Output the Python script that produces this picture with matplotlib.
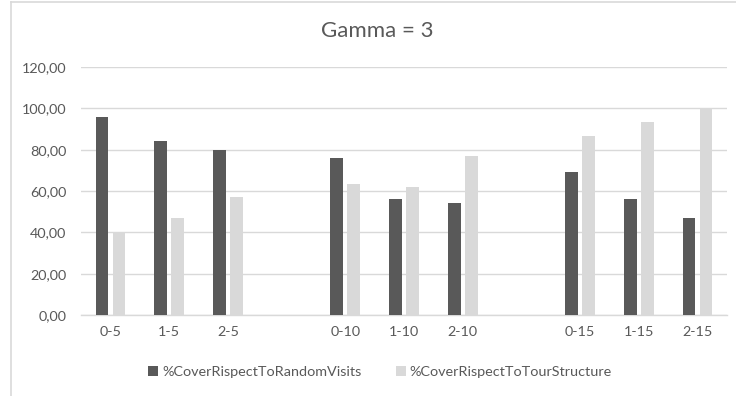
import matplotlib
matplotlib.use("Agg")
import matplotlib.pyplot as plt
from matplotlib.lines import Line2D
from matplotlib.patches import Patch
from matplotlib.ticker import FuncFormatter

plt.rcParams['font.family'] = ['Lato', 'DejaVu Sans']

title = "Gamma = 3"
categories = ["0-5", "1-5", "2-5", "0-10", "1-10", "2-10", "0-15", "1-15", "2-15"]
random_visits = [96.0, 84.0, 80.0, 76.0, 56.0, 54.0, 69.3, 56.0, 46.7]
tour_structure = [40.0, 46.7, 57.1, 63.3, 62.0, 77.0, 86.7, 93.3, 100.0]
series_names = ["%CoverRispectToRandomVisits", "%CoverRispectToTourStructure"]
y_ticks = [0, 20, 40, 60, 80, 100, 120]

dark = "#595959"
light = "#d9d9d9"
text_col = "#595959"
grid_col = "#d9d9d9"

W, H = 736, 396
fig = plt.figure(figsize=(W / 100, H / 100), dpi=100)
ax = fig.add_axes([81 / W, (H - 315) / H, (727 - 81) / W, (315 - 67) / H])

# three groups of three categories, separated by one empty slot
pos = [(i // 3) * 4 + (i % 3) for i in range(len(categories))]
bw = 0.215
off = 0.145
ax.bar([p - off for p in pos], random_visits, width=bw, color=dark, zorder=3)
ax.bar([p + off for p in pos], tour_structure, width=bw, color=light, zorder=3)

ax.set_xlim(-0.5, 10.5)
ax.set_ylim(0, 120)
ax.set_yticks(y_ticks)
ax.yaxis.set_major_formatter(FuncFormatter(lambda v, _: f"{v:.2f}".replace(".", ",")))
ax.set_xticks(pos)
ax.set_xticklabels(categories)
ax.tick_params(axis='both', length=0, colors=text_col, labelsize=10.4)
ax.tick_params(axis='y', pad=10.5)
ax.tick_params(axis='x', pad=8)
ax.grid(axis='y', color=grid_col, linewidth=1.0, zorder=0)
for s in ["top", "right", "left"]:
    ax.spines[s].set_visible(False)
ax.spines["bottom"].set_color(grid_col)
ax.spines["bottom"].set_linewidth(1.0)

fig.text(377.7 / W, 1 - 31 / H, title, ha='center', va='center', fontsize=16, color=text_col)

handles = [Patch(facecolor=dark), Patch(facecolor=light)]
fig.legend(handles, series_names, loc='center', bbox_to_anchor=(380 / W, 1 - 372 / H),
           ncol=2, frameon=False, fontsize=10.4, labelcolor=text_col,
           handlelength=0.7, handleheight=0.7, handletextpad=0.25, columnspacing=2.4)

# chart frame
fig.add_artist(Line2D([10.5 / W, 10.5 / W], [0, 1 - 1.5 / H], color=grid_col, lw=1.2,
                      transform=fig.transFigure))
fig.add_artist(Line2D([10.5 / W, 1], [1 - 1.5 / H, 1 - 1.5 / H], color=grid_col, lw=1.2,
                      transform=fig.transFigure))

fig.savefig("out.png", dpi=100)
